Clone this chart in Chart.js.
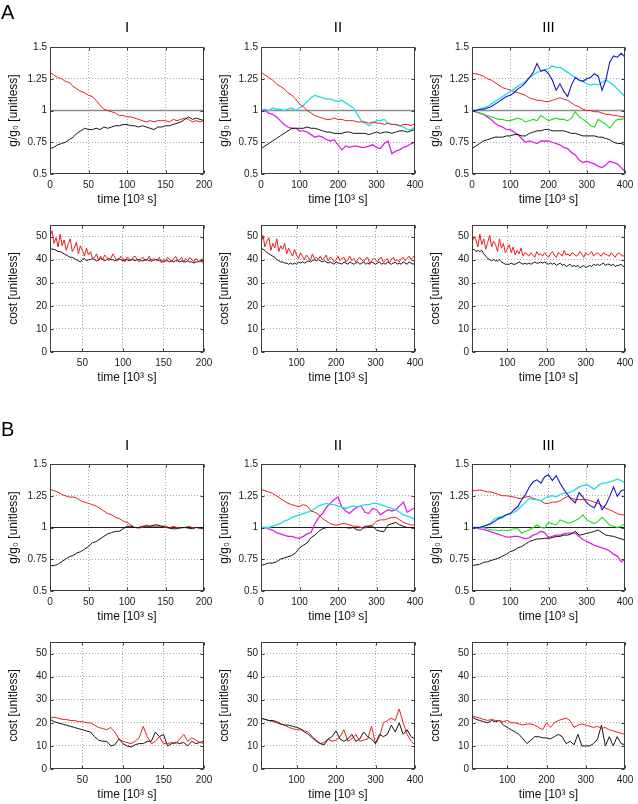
<!DOCTYPE html>
<html><head><meta charset="utf-8">
<script src="https://cdn.jsdelivr.net/npm/chart.js@4.4.1/dist/chart.umd.min.js"></script>
<style>
html,body{margin:0;padding:0;background:#fff;}
body{width:638px;height:804px;position:relative;overflow:hidden;font-family:"Liberation Sans",Arial,sans-serif;}
canvas{position:absolute;}
.lbl{position:absolute;line-height:1;color:#000;white-space:nowrap;will-change:transform;transform:translateZ(0);}
.ttl{position:absolute;line-height:1;color:#000;text-align:center;font-size:15px;will-change:transform;transform:translateZ(0);}
</style></head><body>
<div class="lbl" style="left:1px;top:2px;font-size:20px;">A</div>
<div class="lbl" style="left:1px;top:419px;font-size:20px;">B</div>
<div class="ttl" style="left:50px;width:154px;top:19px;">I</div>
<div class="ttl" style="left:261px;width:154px;top:19px;">II</div>
<div class="ttl" style="left:472px;width:153px;top:19px;">III</div>
<div class="ttl" style="left:50px;width:154px;top:437px;">I</div>
<div class="ttl" style="left:261px;width:154px;top:437px;">II</div>
<div class="ttl" style="left:472px;width:153px;top:437px;">III</div>
<script>
// ---------- time axes (10^3 s) ----------
const tG200 = [0,5,10,15,20,25,30,35,40,45,50,55,60,65,70,75,80,85,90,95,100,105,110,115,120,125,130,135,140,145,150,155,160,165,170,175,180,185,190,195,200];
const tG400 = [0,10,20,30,40,50,60,70,80,90,100,110,120,130,140,150,160,170,180,190,200,210,220,230,240,250,260,270,280,290,300,310,320,330,340,350,360,370,380,390,400];
const tCA200 = [10,12.5,15,17.5,20,22.5,25,27.5,30,32.5,35,37.5,40,42.5,45,47.5,50,52.5,55,57.5,60,62.5,65,67.5,70,72.5,75,77.5,80,82.5,85,87.5,90,92.5,95,97.5,100,102.5,105,107.5,110,112.5,115,117.5,120,122.5,125,127.5,130,132.5,135,137.5,140,142.5,145,147.5,150,152.5,155,157.5,160,162.5,165,167.5,170,172.5,175,177.5,180,182.5,185,187.5,190,192.5,195,197.5,200];
const tCA400 = [10,15,20,25,30,35,40,45,50,55,60,65,70,75,80,85,90,95,100,105,110,115,120,125,130,135,140,145,150,155,160,165,170,175,180,185,190,195,200,205,210,215,220,225,230,235,240,245,250,255,260,265,270,275,280,285,290,295,300,305,310,315,320,325,330,335,340,345,350,355,360,365,370,375,380,385,390,395,400];
const tCB200 = [10,15,20,25,30,35,40,45,50,55,60,65,70,75,80,85,90,95,100,105,110,115,120,125,130,135,140,145,150,155,160,165,170,175,180,185,190,195,200];
const tCB400 = [10,20,30,40,50,60,70,80,90,100,110,120,130,140,150,160,170,180,190,200,210,220,230,240,250,260,270,280,290,300,310,320,330,340,350,360,370,380,390,400];

// ---------- tick values / labels ----------
const gTicks = [0.5,0.75,1,1.25,1.5];
const gTickLabels = ['0.5','0.75','1','1.25','1.5'];
const costTicks = [0,10,20,30,40,50];
const xTicks200 = [0,50,100,150,200];
const xTicks400 = [0,100,200,300,400];
const costXTicks200 = [50,100,150,200];
const costXTicks400 = [100,200,300,400];
const unity = [1,1];

// ---------- A, g/g0 ----------
const aI_red = [1.30,1.28,1.26,1.25,1.23,1.22,1.19,1.17,1.15,1.14,
 1.12,1.11,1.08,1.04,1.01,1.00,0.99,0.98,0.96,0.96,
 0.95,0.95,0.94,0.93,0.92,0.91,0.92,0.91,0.92,0.92,
 0.92,0.91,0.93,0.92,0.93,0.94,0.93,0.91,0.92,0.91,0.92];
const aI_black = [0.70,0.71,0.73,0.74,0.75,0.77,0.79,0.82,0.84,0.86,
 0.85,0.85,0.86,0.85,0.87,0.86,0.87,0.88,0.88,0.89,
 0.89,0.88,0.88,0.87,0.88,0.87,0.86,0.85,0.87,0.87,
 0.88,0.88,0.89,0.90,0.91,0.93,0.95,0.93,0.94,0.93,0.92];

const aII_red = [1.30,1.28,1.26,1.24,1.21,1.19,1.17,1.14,1.12,1.09,
 1.05,1.03,1.00,0.98,0.96,0.95,0.94,0.93,0.93,0.94,
 0.93,0.93,0.92,0.92,0.92,0.91,0.91,0.91,0.90,0.91,
 0.90,0.90,0.89,0.90,0.89,0.89,0.88,0.89,0.89,0.88,0.90];
const aII_cyan = [1.00,1.01,1.00,1.02,1.01,1.01,1.00,1.01,1.02,1.00,
 1.02,1.04,1.07,1.10,1.12,1.11,1.10,1.09,1.09,1.08,
 1.07,1.08,1.06,1.04,1.02,0.97,0.92,0.90,0.88,0.90,
 0.92,0.92,0.93,0.90,0.89,0.89,0.88,0.87,0.85,0.85,0.87];
const aII_magenta = [1.00,1.00,0.98,0.97,0.95,0.92,0.89,0.87,0.86,0.86,
 0.84,0.84,0.83,0.81,0.79,0.80,0.79,0.77,0.76,0.77,
 0.73,0.69,0.72,0.71,0.72,0.72,0.71,0.71,0.72,0.73,
 0.71,0.70,0.74,0.76,0.66,0.68,0.69,0.71,0.72,0.74,0.75];
const aII_black = [0.70,0.72,0.74,0.76,0.78,0.80,0.82,0.84,0.86,0.86,
 0.86,0.86,0.87,0.86,0.86,0.85,0.84,0.83,0.83,0.82,
 0.82,0.82,0.83,0.83,0.82,0.82,0.82,0.82,0.81,0.82,
 0.83,0.82,0.83,0.83,0.82,0.83,0.84,0.84,0.83,0.84,0.85];

const aIII_red = [1.29,1.29,1.28,1.27,1.25,1.24,1.22,1.20,1.18,1.17,
 1.16,1.15,1.14,1.13,1.12,1.10,1.09,1.08,1.08,1.07,
 1.07,1.08,1.09,1.10,1.09,1.08,1.06,1.04,1.03,1.01,
 1.00,1.00,0.99,0.99,0.98,0.97,0.97,0.96,0.96,0.95,0.955];
const aIII_cyan = [1.00,1.00,1.01,1.02,1.03,1.05,1.07,1.09,1.11,1.13,
 1.15,1.17,1.19,1.21,1.23,1.26,1.28,1.30,1.31,1.32,
 1.33,1.35,1.34,1.34,1.32,1.30,1.28,1.26,1.24,1.23,
 1.21,1.20,1.21,1.20,1.22,1.24,1.22,1.20,1.17,1.14,1.11];
const aIII_blue = [1.00,1.00,1.01,1.01,1.02,1.03,1.05,1.07,1.09,1.11,
 1.12,1.14,1.17,1.19,1.22,1.26,1.30,1.37,1.31,1.32,
 1.29,1.24,1.16,1.21,1.15,1.11,1.20,1.26,1.24,1.23,
 1.25,1.26,1.29,1.27,1.16,1.24,1.38,1.43,1.42,1.45,1.42];
const aIII_green = [1.00,0.99,0.98,0.97,0.96,0.95,0.94,0.93,0.93,0.92,
 0.92,0.93,0.94,0.93,0.91,0.92,0.93,0.92,0.96,0.94,
 0.92,0.93,0.94,0.93,0.93,0.92,0.94,0.99,0.95,0.93,
 0.91,0.88,0.87,0.93,0.91,0.89,0.86,0.90,0.93,0.93,0.94];
const aIII_magenta = [1.00,0.99,0.98,0.97,0.95,0.93,0.90,0.88,0.87,0.85,
 0.85,0.83,0.81,0.78,0.75,0.76,0.75,0.74,0.76,0.76,
 0.76,0.75,0.74,0.73,0.71,0.70,0.67,0.65,0.61,0.59,
 0.60,0.59,0.58,0.56,0.55,0.57,0.60,0.59,0.58,0.55,0.52];
const aIII_black = [0.70,0.72,0.74,0.76,0.77,0.78,0.79,0.79,0.79,0.80,
 0.80,0.81,0.81,0.80,0.80,0.82,0.83,0.84,0.84,0.85,
 0.85,0.84,0.84,0.84,0.84,0.83,0.82,0.82,0.81,0.80,
 0.80,0.80,0.80,0.79,0.79,0.78,0.77,0.75,0.74,0.74,0.73];

// ---------- A, cost ----------
const aCostI_red = [50,52.5,47,49.5,45.5,51,46,48.5,44,47,
 49,43.5,45,47.5,42.5,46,44,41.5,45,42,
 43.5,40.5,41,42.5,39.5,41.5,40,42,41,39.5,
 40.5,42.5,41,39.5,40,41.5,40.5,39,41,40.5,
 39.5,41,41.5,40,39,40.5,41,39.5,40,41.5,
 39,40.5,40,39.5,41,38.5,40,39.5,41,40,
 39,40.5,41.5,39.5,40,41,39,40.5,39.5,41,
 40,39,40.5,39.5,39,40.5,39.5];
const aCostI_black = [45,44.5,44.5,44,43.5,43.5,43,42.5,42,41.5,
 41,41,40.5,40,39.5,39,40,40.5,39.5,40,
 40,40.5,40,39.5,40,40.5,40,39.5,40,40.5,
 40,40,39.5,40,40.5,40,39.5,40,40,39.5,
 40,40,39.5,40,40,39.5,39.5,40,40,39.5,
 40,39.5,40,40,39.5,39.5,39,39.5,39.5,39,
 39.5,39,39.5,39.5,39,39.5,39,39,39.5,39,
 39,38.5,39,39,39.5,39,39];
const aCostII_red = [47,50.5,45.5,48,49.5,44,47,45,49,43.5,
 46,44.5,47,42.5,45,43,41.5,44.5,42,40.5,
 43,41.5,40,42,41,39.5,42.5,40.5,41,40,
 41.5,40,40.5,42,39.5,41,40.5,39,40,41.5,
 39.5,40.5,41,39,40,41.5,39.5,40.5,39,40,
 41,40,39,40.5,41,38.5,39.5,40.5,40,39,
 40.5,41,39,39.5,40.5,38.5,40,41,39.5,40,
 39,40.5,41,39.5,40.5,41.5,40,41,42];
const aCostII_black = [45,44.5,44,43,42.5,42,41.5,41,40,39.5,
 39,39,38.5,38.5,38,38.5,38,38.5,38,39,
 38.5,39,38.5,39,39.5,39,39.5,40,39.5,40,
 39.5,39,39.5,39,38.5,39,38.5,38,39,38.5,
 38.5,38,39,38.5,38,39,38.5,38,38.5,39,
 38,38.5,39,38,38.5,38,39,38.5,38,38.5,
 39,38,38.5,38,39,38.5,38,38.5,39,38,
 38.5,38,39,38.5,38,39,38.5,38,38.5];
const aCostIII_red = [47,50,48.5,45.5,51,46.5,49,44.5,47.5,50.5,
 45.5,48,46.5,43.5,49,45,47,43,44.5,46.5,
 43,45.5,42,44,42.5,45,41.5,43,42.5,41.5,
 43,42,41,43.5,42,42.5,41.5,43,42,41,
 42.5,43.5,42,41,43,42.5,41.5,44,42,42.5,
 41.5,43,42.5,41.5,42,43.5,42.5,41,43,42,
 42.5,43.5,41.5,42.5,43,42,41.5,43,42.5,42,
 41.5,43,42,41,42.5,43,42,41.5,42];
const aCostIII_black = [44,44.5,43.5,44,43.5,44,42.5,41.5,40.5,40,
 39.5,40,39.5,39.5,40,39,38.5,38,38,38,
 38.5,38,38,38.5,39,38.5,38,38.5,38,38.5,
 38,38.5,39,38.5,38.5,39,38.5,39,38.5,38,
 38.5,38,38.5,37.5,38,38.5,37.5,38,37,37.5,
 38,37,37.5,37,37.5,36.5,37,37.5,36.5,37,
 37.5,37,38,37.5,38,37.5,38,38.5,37.5,38,
 38,37.5,38,37,37.5,37.5,38,37,37.5];

// ---------- B, g/g0 ----------
const bI_red = [1.30,1.29,1.28,1.26,1.25,1.24,1.24,1.23,1.21,1.20,
 1.19,1.18,1.17,1.15,1.13,1.11,1.10,1.08,1.07,1.05,
 1.04,1.02,1.00,0.995,1.00,1.02,1.01,1.01,1.01,1.01,
 1.00,0.995,1.01,1.00,0.995,1.00,1.01,1.00,1.00,0.99,1.00];
const bI_black = [0.70,0.70,0.71,0.73,0.75,0.77,0.78,0.80,0.81,0.83,
 0.85,0.88,0.89,0.91,0.93,0.95,0.96,0.97,0.97,0.99,
 1.01,1.01,1.00,1.00,1.01,1.01,1.01,1.02,1.02,1.01,
 1.01,0.995,0.99,0.99,1.00,1.00,0.995,0.99,1.00,1.00,1.00];

const bII_red = [1.30,1.29,1.28,1.27,1.25,1.23,1.21,1.19,1.18,1.17,
 1.165,1.18,1.17,1.13,1.12,1.10,1.07,1.05,1.03,1.02,
 1.02,1.03,1.03,1.02,1.01,1.01,1.00,0.995,1.01,1.02,
 1.05,1.06,1.06,1.07,1.08,1.08,1.06,1.04,1.03,1.02,1.02];
const bII_cyan = [1.00,1.00,1.00,1.01,1.02,1.03,1.05,1.06,1.08,1.09,
 1.10,1.11,1.12,1.13,1.15,1.17,1.18,1.19,1.18,1.18,
 1.17,1.16,1.15,1.16,1.17,1.16,1.17,1.18,1.18,1.19,
 1.19,1.18,1.17,1.16,1.15,1.14,1.12,1.10,1.09,1.08,1.06];
const bII_magenta = [1.00,1.00,0.99,0.98,0.96,0.95,0.94,0.93,0.93,0.92,
 0.915,0.93,0.95,0.96,1.03,1.08,1.11,1.16,1.19,1.22,
 1.24,1.16,1.13,1.11,1.14,1.16,1.17,1.12,1.11,1.15,
 1.14,1.10,1.12,1.14,1.13,1.14,1.17,1.20,1.12,1.14,1.155];
const bII_black = [0.70,0.71,0.72,0.72,0.73,0.75,0.76,0.77,0.78,0.80,
 0.84,0.86,0.88,0.92,0.94,0.97,0.99,1.00,1.00,1.00,
 1.00,1.00,1.00,0.995,1.00,0.98,0.98,1.01,1.01,1.01,
 0.98,0.97,0.97,1.02,1.03,1.04,1.02,1.01,1.00,1.00,1.00];

const bIII_red = [1.29,1.29,1.295,1.29,1.28,1.28,1.27,1.26,1.25,1.25,
 1.245,1.24,1.23,1.23,1.24,1.245,1.23,1.22,1.21,1.19,
 1.19,1.20,1.20,1.21,1.23,1.245,1.23,1.22,1.22,1.22,
 1.22,1.21,1.20,1.19,1.17,1.15,1.14,1.125,1.11,1.10,1.10];
const bIII_cyan = [1.00,1.00,1.00,1.01,1.02,1.04,1.07,1.08,1.09,1.10,
 1.11,1.12,1.14,1.17,1.20,1.23,1.22,1.22,1.21,1.23,
 1.245,1.25,1.24,1.26,1.27,1.27,1.28,1.30,1.32,1.33,
 1.34,1.32,1.30,1.33,1.35,1.35,1.36,1.37,1.38,1.37,1.35];
const bIII_blue = [1.00,1.00,1.00,1.01,1.02,1.03,1.05,1.07,1.08,1.10,
 1.11,1.14,1.165,1.22,1.26,1.32,1.36,1.375,1.35,1.40,
 1.415,1.37,1.41,1.35,1.30,1.26,1.22,1.195,1.275,1.24,
 1.195,1.17,1.155,1.22,1.14,1.18,1.245,1.32,1.245,1.29,1.30];
const bIII_green = [1.00,1.00,1.00,1.00,0.99,0.98,0.98,0.975,0.98,0.975,
 0.98,0.99,0.99,0.955,0.97,0.98,1.00,1.02,1.00,0.995,
 1.04,1.03,1.02,1.06,1.05,1.035,1.04,1.055,1.07,1.10,
 1.06,1.045,1.03,1.05,1.08,1.05,1.02,1.01,1.00,1.01,1.03];
const bIII_magenta = [1.00,0.995,0.99,0.985,0.975,0.965,0.955,0.945,0.935,0.925,
 0.925,0.93,0.93,0.92,0.91,0.92,0.94,0.95,0.97,0.96,
 0.92,0.93,0.94,0.94,0.95,0.955,0.955,0.955,0.93,0.905,
 0.89,0.875,0.86,0.85,0.84,0.83,0.815,0.79,0.775,0.73,0.75];
const bIII_black = [0.70,0.705,0.71,0.725,0.73,0.74,0.75,0.76,0.775,0.79,
 0.81,0.82,0.84,0.85,0.87,0.89,0.90,0.91,0.91,0.915,
 0.915,0.92,0.93,0.93,0.94,0.94,0.95,0.97,0.94,0.945,
 0.955,0.96,0.97,0.98,0.96,0.94,0.935,0.93,0.92,0.91,0.90];

// ---------- B, cost ----------
const bCostI_red = [22,22.5,22,21.5,21.5,21,21,20.5,20.5,20,
 20,19,18,17.5,17,18,16,13,12,11.5,
 11,12,13.5,18.5,14,11,12,14,11,11,
 11.5,11,13,15,12,13.5,12.5,11.5,11];
const bCostI_black = [21.5,20.5,20,19.5,19,18.5,18,17.5,17,16.5,
 16,14,12.5,12,12,10,10.5,13,11,10,
 9.5,10.5,11,11,12,12,16,14,15,10,
 11,11.5,11,11.5,10,12,11,11.5,12];
const bCostII_red = [22,21.5,21,20.5,20,19.5,19,18,17.5,17,
 17,16.5,16,14,12.5,11,11.5,13,12,12.5,
 14,17,12,13,15,12,12.5,13,18.5,11,
 14,20,21,22,21,26,20,15,12,10.5];
const bCostII_black = [22,21.5,21,21,20.5,19.5,19,19,18.5,18,
 17.5,16,15,13.5,12,11,10.5,13,14,16.5,
 13,12,13,15,12,13,16,14,13,11,
 15,14,15,19,16,20,15,17,14,13];
const bCostIII_red = [23,22.5,22,21.5,21,21.5,21,21,20.5,21,
 20,20,19.5,19,19.5,19.5,19,18,17,20,
 18,20,21,21.5,22,21,18,19,19.5,19,
 18.5,18,18.5,17.5,18,17,16.5,16,15.5,15];
const bCostIII_black = [22.5,21.5,21,20.5,20,21,20.5,21,19,18,
 17,16,15,13,11,12.5,14,14,13.5,13.5,
 13,14,15,14,11,12,10.5,15,10,10,
 10,11,13,19,10,14,10,14,11,10.5];

// ---------- drawing ----------
const FONT = '"Liberation Sans", Arial, sans-serif';
Chart.defaults.font.family = FONT;
Chart.defaults.color = '#1a1a1a';

const COL = {red:'#ec1c1c', black:'#141414', cyan:'#20dde4', magenta:'#e020e0', blue:'#1515c8', green:'#1ce01c'};
const WID = {red:1, black:1, cyan:1.3, magenta:1.3, blue:1.1, green:1.1};

const boxPlugin = {
  id: 'box',
  afterDraw(chart) {
    const {ctx, chartArea: a, scales} = chart;
    const L = Math.round(a.left) + 0.5, T = Math.round(a.top) + 0.5;
    const R = Math.round(a.right) - 0.5, B = Math.round(a.bottom) - 0.5;
    ctx.save();
    ctx.strokeStyle = '#3c3c3c';
    ctx.lineWidth = 1;
    ctx.beginPath();
    scales.x.ticks.forEach(t => {
      const px = Math.round(scales.x.getPixelForValue(t.value)) + 0.5;
      ctx.moveTo(px, B); ctx.lineTo(px, B - 3);
      ctx.moveTo(px, T); ctx.lineTo(px, T + 3);
    });
    scales.y.ticks.forEach(t => {
      const py = Math.round(scales.y.getPixelForValue(t.value)) + 0.5;
      ctx.moveTo(L, py); ctx.lineTo(L + 3, py);
      ctx.moveTo(R, py); ctx.lineTo(R - 3, py);
    });
    ctx.stroke();
    ctx.strokeRect(L, T, R - L, B - T);
    ctx.restore();
  }
};

const colLeft = [50, 261, 472], colW = [154, 154, 153];
const rowTop = [47, 225, 464, 642], rowH = 127;

const panels = [
  {row:0,col:0,kind:'g',xs:tG200,xt:xTicks200,ref:'#8a8a8a',refW:1.5,lines:[[aI_black,'black'],[aI_red,'red']]},
  {row:0,col:1,kind:'g',xs:tG400,xt:xTicks400,ref:'#8a8a8a',refW:1.5,lines:[[aII_black,'black'],[aII_red,'red'],[aII_cyan,'cyan'],[aII_magenta,'magenta']]},
  {row:0,col:2,kind:'g',xs:tG400,xt:xTicks400,ref:'#8a8a8a',refW:1.5,lines:[[aIII_blue,'blue'],[aIII_cyan,'cyan'],[aIII_red,'red'],[aIII_green,'green'],[aIII_black,'black'],[aIII_magenta,'magenta']]},
  {row:1,col:0,kind:'c',xs:tCA200,xt:costXTicks200,lines:[[aCostI_red,'red'],[aCostI_black,'black']]},
  {row:1,col:1,kind:'c',xs:tCA400,xt:costXTicks400,lines:[[aCostII_red,'red'],[aCostII_black,'black']]},
  {row:1,col:2,kind:'c',xs:tCA400,xt:costXTicks400,lines:[[aCostIII_red,'red'],[aCostIII_black,'black']]},
  {row:2,col:0,kind:'g',xs:tG200,xt:xTicks200,ref:'#202020',refW:1,lines:[[bI_black,'black'],[bI_red,'red']]},
  {row:2,col:1,kind:'g',xs:tG400,xt:xTicks400,ref:'#202020',refW:1,lines:[[bII_black,'black'],[bII_red,'red'],[bII_cyan,'cyan'],[bII_magenta,'magenta']]},
  {row:2,col:2,kind:'g',xs:tG400,xt:xTicks400,ref:'#202020',refW:1,lines:[[bIII_blue,'blue'],[bIII_cyan,'cyan'],[bIII_red,'red'],[bIII_green,'green'],[bIII_black,'black'],[bIII_magenta,'magenta']]},
  {row:3,col:0,kind:'c',xs:tCB200,xt:costXTicks200,lines:[[bCostI_red,'red'],[bCostI_black,'black']]},
  {row:3,col:1,kind:'c',xs:tCB400,xt:costXTicks400,lines:[[bCostII_black,'black'],[bCostII_red,'red']]},
  {row:3,col:2,kind:'c',xs:tCB400,xt:costXTicks400,lines:[[bCostIII_red,'red'],[bCostIII_black,'black']]}
];

function build(p) {
  const L = colLeft[p.col], T = rowTop[p.row], W = colW[p.col], H = rowH;
  const padL = 50, padR = 10, padT = 10, padB = 34;
  const cw = padL + W + padR, ch = padT + H + padB;
  const cv = document.createElement('canvas');
  cv.width = cw; cv.height = ch;
  cv.style.left = (L - padL) + 'px'; cv.style.top = (T - padT) + 'px';
  cv.style.width = cw + 'px'; cv.style.height = ch + 'px';
  document.body.appendChild(cv);

  const isG = p.kind === 'g';
  const xmin = p.xs[0], xmax = p.xs[p.xs.length - 1];
  const ymin = isG ? 0.5 : 0, ymax = isG ? 1.5 : 55;
  const yt = isG ? gTicks : costTicks;

  const datasets = p.lines.map(([ys, c]) => ({
    data: ys.map((v, i) => ({x: p.xs[i], y: v})),
    borderColor: COL[c], borderWidth: WID[c], pointRadius: 0, tension: 0, fill: false
  }));
  if (isG) {
    datasets.push({
      data: [{x: xmin, y: unity[0]}, {x: xmax, y: unity[1]}],
      borderColor: p.ref, borderWidth: p.refW, pointRadius: 0, fill: false
    });
  }

  const gridColor = (lo, hi) => (ctx) => {
    const v = ctx.tick ? ctx.tick.value : null;
    return (v === lo || v === hi) ? 'rgba(0,0,0,0)' : '#a8a8a8';
  };

  new Chart(cv, {
    type: 'line',
    data: {datasets},
    plugins: [boxPlugin],
    options: {
      animation: false, responsive: false, maintainAspectRatio: false, devicePixelRatio: 1,
      layout: {padding: {left: 0, right: padR, top: padT, bottom: 0}},
      plugins: {legend: {display: false}, tooltip: {enabled: false}, title: {display: false}},
      elements: {point: {radius: 0}, line: {borderWidth: 1}},
      scales: {
        x: {
          type: 'linear', min: xmin, max: xmax,
          afterBuildTicks: s => { s.ticks = p.xt.map(v => ({value: v})); },
          afterFit: s => { s.height = padB; s.paddingLeft = 0; s.paddingRight = 0; },
          grid: {color: gridColor(xmin, xmax), lineWidth: 1, drawTicks: false},
          border: {display: false, dash: [1, 2]},
          ticks: {font: {size: 10}, color: '#1a1a1a', padding: 5, maxRotation: 0, autoSkip: false,
                  callback: v => String(v)},
          title: {display: true, text: 'time [10³ s]', font: {size: 12}, color: '#111', padding: {top: 0, bottom: 1}}
        },
        y: {
          type: 'linear', min: ymin, max: ymax,
          afterBuildTicks: s => { s.ticks = yt.map(v => ({value: v})); },
          afterFit: s => { s.width = padL; s.paddingTop = 0; s.paddingBottom = 0; },
          grid: {color: gridColor(ymin, ymax), lineWidth: 1, drawTicks: false},
          border: {display: false, dash: [1, 2]},
          ticks: {font: {size: 10}, color: '#1a1a1a', padding: 3, autoSkip: false,
                  callback: v => isG ? gTickLabels[gTicks.indexOf(v)] : String(v)},
          title: {display: true, text: isG ? 'g/g₀ [unitless]' : 'cost [unitless]', font: {size: 12}, color: '#111',
                  padding: {top: 6, bottom: 0}}
        }
      }
    }
  });
}

panels.forEach(build);
</script>
</body></html>
